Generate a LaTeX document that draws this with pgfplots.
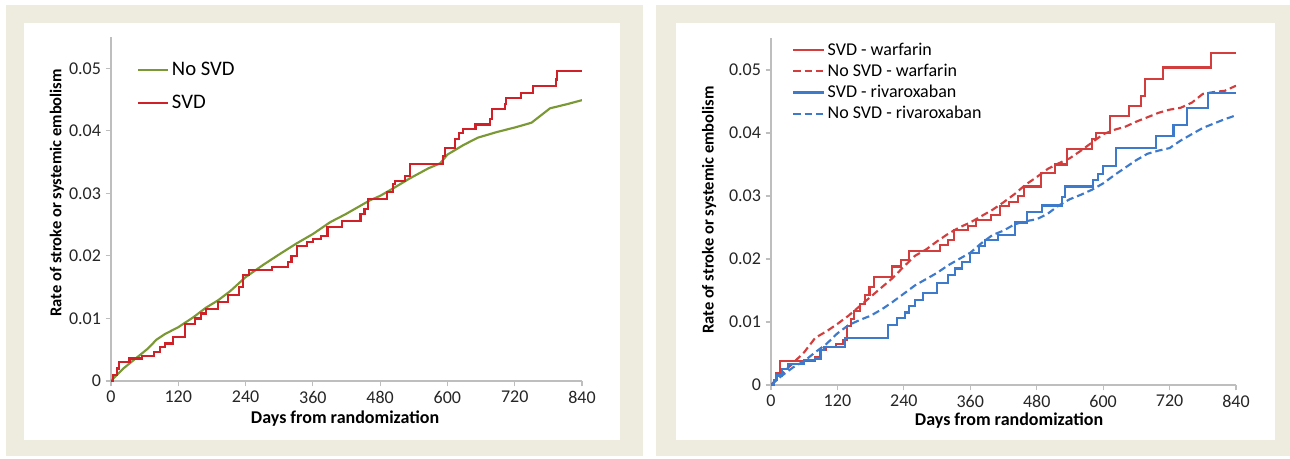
\documentclass[border=0pt]{standalone}
\usepackage{pgfplots}
\pgfplotsset{compat=1.18}
\usepackage{fontspec}
\setmainfont{Carlito}

\definecolor{frame}{RGB}{238,236,222}
\definecolor{axisgrey}{RGB}{190,190,190}
\definecolor{svdred}{RGB}{208,32,40}
\definecolor{nosvdgreen}{RGB}{122,152,52}
\definecolor{wred}{RGB}{210,62,62}
\definecolor{rblue}{RGB}{62,122,204}

\pgfplotsset{
  kmstyle/.style={
    scale only axis,
    xmin=0, xmax=840, ymin=0, ymax=0.055,
    axis x line*=bottom, axis y line*=left,
    axis line style={axisgrey, line width=1pt},
    tick style={axisgrey, line width=0.8pt},
    tick align=outside,
    major tick length=4pt,
    xtick={0,120,...,840},
    ytick={0,0.01,0.02,0.03,0.04,0.05},
    scaled y ticks=false,
    yticklabel style={/pgf/number format/.cd, fixed, precision=2},
    /pgf/number format/assume math mode=true,
    tick label style={font=\fontsize{13.5}{16}\selectfont, text=black!85},
    xlabel={Days from randomization},
    ylabel={Rate of stroke or systemic embolism},
    legend cell align=left,
  },
  lw/.style={line width=1.6pt},
}

\begin{document}
\begin{tikzpicture}[x=0.75pt,y=0.75pt]
% page and panel frames (pixel units, origin bottom left)
\fill[white] (0,0) rectangle (1290,458);
\fill[frame] (6,2) rectangle (643,453);
\fill[white] (24,18) rectangle (620,435);
\fill[frame] (656,2) rectangle (1290,453);
\fill[white] (676,18) rectangle (1275,435);

% left panel
\begin{axis}[kmstyle,
  at={(83.25pt,57.75pt)}, anchor=south west,
  width=353.25pt, height=258pt,
  ylabel style={at={(rel axis cs:-0.115,0.547)}, rotate=0, anchor=center,
    font=\bfseries\fontsize{12.4}{15}\selectfont},
  xlabel style={at={(rel axis cs:0.497,-0.108)}, anchor=center,
    font=\bfseries\fontsize{13.5}{16}\selectfont},
  legend style={at={(rel axis cs:0.055,0.935)}, anchor=north west, draw=none, fill=none,
    font=\fontsize{15.5}{18}\selectfont, row sep=9pt, inner sep=0pt},
  legend image code/.code={\draw[#1] (0pt,0pt) -- (22.5pt,0pt);},
]
\addplot[nosvdgreen, lw] coordinates {
(0,0) (22,0.002) (44,0.0036) (66,0.0052) (81,0.0066) (96,0.0075) (120,0.0086)
(147,0.0102) (169,0.0117) (191,0.0129) (213,0.0144) (240,0.0166) (272,0.0186)
(301,0.0203) (331,0.022) (360,0.0235) (391,0.0254) (419,0.0267) (462,0.0289)
(480,0.0296) (507,0.031) (533,0.0324) (566,0.034) (587,0.0348) (600,0.0362)
(628,0.0377) (654,0.0389) (688,0.0398) (723,0.0406) (750,0.0413) (783,0.0436)
(815,0.0443) (840,0.0449)};
\addlegendentry{No SVD}
\addplot[svdred, lw, const plot] coordinates {
(0,0) (4,0.001) (10,0.002) (15,0.003) (33,0.0036) (55,0.004) (77,0.0046) (88,0.0054)
(96,0.006) (110,0.007) (132,0.0091) (150,0.01) (160,0.0108) (169,0.0115) (191,0.0126)
(209,0.0137) (228,0.015) (235,0.0169) (246,0.0177) (287,0.0182) (316,0.019) (322,0.02)
(331,0.0216) (349,0.0222) (360,0.0227) (375,0.0232) (386,0.0246) (412,0.0256)
(445,0.0267) (452,0.0275) (459,0.0291) (492,0.0302) (503,0.0315) (507,0.032)
(525,0.0328) (533,0.0347) (592,0.036) (595,0.0373) (614,0.0387) (621,0.0397)
(628,0.0403) (650,0.041) (676,0.0419) (680,0.0435) (702,0.0443) (705,0.0452)
(731,0.0461) (753,0.0472) (794,0.0482) (796,0.0496) (840,0.0496)};
\addlegendentry{SVD}
\end{axis}

% right panel
\begin{axis}[kmstyle,
  at={(578.25pt,54.75pt)}, anchor=south west,
  width=348.75pt, height=259.9pt,
  ylabel style={at={(rel axis cs:-0.133,0.505)}, rotate=0, anchor=center,
    font=\bfseries\fontsize{12.4}{15}\selectfont},
  xlabel style={at={(rel axis cs:0.512,-0.104)}, anchor=center,
    font=\bfseries\fontsize{13.5}{16}\selectfont},
  legend style={at={(rel axis cs:0.045,0.995)}, anchor=north west, draw=none, fill=none,
    font=\fontsize{13.5}{16}\selectfont, row sep=1pt, inner sep=0pt},
  legend image code/.code={\draw[#1] (0pt,0pt) -- (23pt,0pt);},
]
\addplot[wred, lw, const plot] coordinates {
(0,0) (5,0.0008) (10,0.0019) (16,0.0038) (80,0.0045) (88,0.0055) (100,0.006)
(118,0.0065) (130,0.0072) (137,0.0093) (144,0.0105) (150,0.0118) (160,0.0128)
(170,0.0143) (178,0.0155) (186,0.0172) (219,0.0188) (235,0.0198) (249,0.0212)
(305,0.0222) (320,0.023) (331,0.0246) (356,0.0252) (370,0.0262) (398,0.027)
(413,0.0284) (430,0.029) (446,0.03) (457,0.0315) (487,0.0337) (513,0.035)
(535,0.0374) (580,0.039) (587,0.04) (613,0.0427) (647,0.0443) (669,0.0459)
(676,0.0485) (708,0.0504) (795,0.0527) (840,0.0527)};
\addlegendentry{SVD - warfarin}
\addplot[wred, lw, dash pattern=on 5.5pt off 3pt] coordinates {
(0,0) (20,0.0018) (40,0.0035) (60,0.0052) (80,0.0075) (100,0.0085) (120,0.0097)
(140,0.011) (160,0.0125) (180,0.014) (200,0.0155) (220,0.017) (240,0.0188)
(260,0.0205) (280,0.0215) (300,0.0228) (320,0.024) (340,0.025) (360,0.0258)
(380,0.0268) (400,0.0278) (420,0.029) (440,0.0303) (460,0.0318) (480,0.033)
(500,0.0343) (520,0.0352) (540,0.036) (560,0.0372) (580,0.0385) (600,0.0398)
(620,0.0405) (640,0.041) (660,0.0418) (680,0.0425) (700,0.0432) (720,0.0437)
(740,0.044) (760,0.0448) (780,0.0462) (800,0.0465) (820,0.0467) (840,0.0475)};
\addlegendentry{No SVD - warfarin}
\addplot[rblue, lw, const plot] coordinates {
(0,0) (5,0.0008) (10,0.0015) (20,0.0025) (30,0.0033) (60,0.004) (80,0.0042)
(90,0.0055) (95,0.0061) (134,0.0074) (212,0.0095) (228,0.0106) (242,0.0115)
(250,0.0125) (260,0.0135) (275,0.0146) (300,0.0162) (320,0.0175) (333,0.0185)
(345,0.0195) (360,0.021) (375,0.022) (387,0.023) (410,0.0238) (440,0.0258)
(462,0.0275) (490,0.0285) (525,0.0299) (531,0.0315) (582,0.0325) (590,0.0335)
(600,0.0347) (623,0.0376) (695,0.0395) (727,0.0413) (751,0.0439) (790,0.0463)
(840,0.0463)};
\addlegendentry{SVD - rivaroxaban}
\addplot[rblue, lw, dash pattern=on 5.5pt off 3pt] coordinates {
(0,0) (20,0.0015) (40,0.0028) (60,0.0038) (80,0.0052) (100,0.0065) (120,0.0082)
(140,0.0095) (160,0.0103) (180,0.011) (200,0.012) (220,0.0132) (240,0.0145)
(260,0.0158) (280,0.0168) (300,0.0178) (320,0.019) (340,0.02) (360,0.021)
(380,0.0225) (400,0.0238) (420,0.0245) (440,0.0255) (460,0.026) (480,0.0263)
(500,0.0272) (520,0.0285) (540,0.0295) (560,0.0302) (580,0.031) (600,0.032)
(620,0.0333) (640,0.0345) (660,0.0357) (680,0.0367) (700,0.0372) (720,0.0376)
(740,0.0388) (760,0.0398) (780,0.0408) (800,0.0415) (820,0.0422) (840,0.0428)};
\addlegendentry{No SVD - rivaroxaban}
\end{axis}
\end{tikzpicture}
\end{document}
